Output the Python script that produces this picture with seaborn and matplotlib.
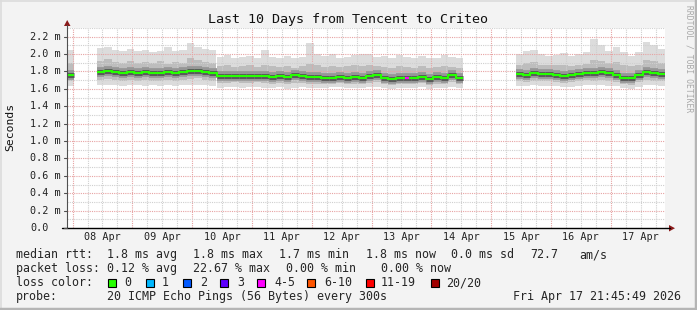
import numpy as np
import pandas as pd
import matplotlib
matplotlib.use("Agg")
import matplotlib.pyplot as plt
import seaborn as sns
from matplotlib.patches import Rectangle, Polygon
from matplotlib.lines import Line2D

nan = np.nan

# ---------------- data (milliseconds), one sample every 3 h ----------------
step_h = 3.0
start_h = -2.2364   # Apr 07 21:45:49 relative to Apr 08 00:00
end_h = 237.7636    # Apr 17 21:45:49

med_seg1 = [1.76]
med_seg2 = [1.79, 1.80, 1.79, 1.78, 1.79, 1.78, 1.79, 1.78, 1.78, 1.79, 1.78, 1.79, 1.80, 1.81, 1.79, 1.78,
            1.75, 1.745, 1.75, 1.745, 1.75, 1.75, 1.745, 1.74, 1.745, 1.735, 1.755, 1.745, 1.735, 1.735, 1.73, 1.73,
            1.735, 1.73, 1.735, 1.73,
            1.745, 1.755, 1.73, 1.715, 1.73, 1.725, 1.725, 1.735, 1.715, 1.735, 1.725, 1.76, 1.725]
med_seg3 = [1.775, 1.765, 1.78, 1.77, 1.77, 1.765, 1.745, 1.755, 1.77, 1.78, 1.78, 1.79, 1.78, 1.765, 1.73,
            1.725, 1.765, 1.79, 1.78, 1.775]

top_seg1 = [2.05]
top_seg2 = [2.07, 2.08, 2.05, 2.04, 2.06, 2.03, 2.05, 2.02, 2.04, 2.08, 2.04, 2.05, 2.13, 2.08, 2.06, 2.05,
            1.97, 1.99, 1.96, 1.97, 1.98, 1.95, 2.05, 1.97, 1.96, 1.98, 1.95, 1.97, 2.13, 2.00, 1.98, 2.00,
            1.96, 1.97, 1.99, 2.00,
            2.00, 1.97, 1.98, 1.96, 1.99, 1.97, 1.96, 1.98, 1.95, 1.96, 1.99, 1.97, 1.95]
top_seg3 = [2.00, 2.04, 2.05, 2.00, 1.98, 1.99, 2.01, 1.98, 2.00, 2.02, 2.17, 2.10, 2.03, 2.08, 2.02,
            1.98, 2.02, 2.14, 2.10, 2.06]

up_seg1 = [1.90]
up_seg2 = [1.92, 1.94, 1.91, 1.90, 1.92, 1.90, 1.91, 1.90, 1.92, 1.89, 1.91, 1.90, 1.95, 1.93, 1.91, 1.90,
           1.86, 1.87, 1.85, 1.86, 1.87, 1.85, 1.88, 1.86, 1.85, 1.86, 1.84, 1.86, 1.89, 1.87, 1.85, 1.86,
           1.85, 1.86, 1.87, 1.86,
           1.87, 1.86, 1.85, 1.84, 1.86, 1.85, 1.84, 1.86, 1.84, 1.85, 1.86, 1.85, 1.84]
up_seg3 = [1.88, 1.90, 1.91, 1.88, 1.87, 1.87, 1.88, 1.86, 1.87, 1.89, 1.93, 1.92, 1.90, 1.91, 1.88,
           1.86, 1.88, 1.93, 1.92, 1.90]

lo_seg1 = [1.69]
lo_seg2 = [1.70, 1.71, 1.70, 1.69, 1.70, 1.69, 1.70, 1.69, 1.69, 1.70, 1.69, 1.70, 1.71, 1.72, 1.70, 1.69,
           1.67, 1.67, 1.68, 1.67, 1.67, 1.68, 1.67, 1.66, 1.67, 1.66, 1.67, 1.67, 1.66, 1.66, 1.66, 1.66,
           1.67, 1.66, 1.66, 1.66,
           1.67, 1.68, 1.66, 1.65, 1.66, 1.66, 1.66, 1.67, 1.65, 1.66, 1.66, 1.68, 1.66]
lo_seg3 = [1.69, 1.68, 1.69, 1.69, 1.69, 1.68, 1.67, 1.68, 1.69, 1.70, 1.69, 1.70, 1.69, 1.68, 1.66,
           1.65, 1.68, 1.70, 1.69, 1.69]

bot_seg1 = [1.63]
bot_seg2 = [1.64, 1.65, 1.64, 1.63, 1.64, 1.64, 1.63, 1.64, 1.63, 1.64, 1.63, 1.64, 1.65, 1.65, 1.64, 1.63,
            1.61, 1.62, 1.62, 1.61, 1.62, 1.62, 1.61, 1.61, 1.62, 1.60, 1.61, 1.62, 1.61, 1.61, 1.61, 1.62,
            1.62, 1.61, 1.61, 1.61,
            1.62, 1.62, 1.61, 1.60, 1.61, 1.61, 1.61, 1.62, 1.60, 1.61, 1.61, 1.62, 1.61]
bot_seg3 = [1.63, 1.63, 1.64, 1.63, 1.63, 1.63, 1.62, 1.62, 1.63, 1.64, 1.64, 1.64, 1.63, 1.63, 1.61,
            1.60, 1.62, 1.64, 1.64, 1.63]

gap1 = [nan] * 3   # Apr 08 early morning: no data
gap2 = [nan] * 7   # Apr 14 noon .. Apr 15 morning: no data

median = med_seg1 + gap1 + med_seg2 + gap2 + med_seg3
smoke_top = top_seg1 + gap1 + top_seg2 + gap2 + top_seg3
smoke_up = up_seg1 + gap1 + up_seg2 + gap2 + up_seg3
smoke_lo = lo_seg1 + gap1 + lo_seg2 + gap2 + lo_seg3
smoke_bot = bot_seg1 + gap1 + bot_seg2 + gap2 + bot_seg3
loss_samples = {45: "4-5"}   # sample index -> loss class

day_labels = ["08 Apr", "09 Apr", "10 Apr", "11 Apr", "12 Apr", "13 Apr", "14 Apr", "15 Apr", "16 Apr", "17 Apr"]
y_ticks = [0.0, 0.2, 0.4, 0.6, 0.8, 1.0, 1.2, 1.4, 1.6, 1.8, 2.0, 2.2]
y_labels = ["0.0", "0.2 m", "0.4 m", "0.6 m", "0.8 m", "1.0 m", "1.2 m", "1.4 m", "1.6 m", "1.8 m", "2.0 m", "2.2 m"]

loss_names = ["0", "1", "2", "3", "4-5", "6-10", "11-19", "20/20"]
loss_colors = ["#26ff00", "#00b8ff", "#0059ff", "#5e00ff", "#ff00ff", "#ff5500", "#ff0000", "#a10000"]

title = "Last 10 Days from Tencent to Criteo"

# ---------------- figure ----------------
sns.set_style("white")
plt.rcParams["font.family"] = ["DejaVu Sans Mono"]

W, H = 697, 310
BG = "#f3f3f3"
fig = plt.figure(figsize=(W / 100, H / 100), dpi=100, facecolor=BG)

def fx(x):
    return x / W

def fy(y):
    return 1 - y / H

L, R, T, B = 67, 665, 28, 228
ax = fig.add_axes([fx(L), fy(B), (R - L) / W, (B - T) / H])
ax.set_facecolor("white")
for s in ax.spines.values():
    s.set_visible(False)
ax.set_xlim(start_h, end_h)
ax.set_ylim(0, 2.3)
ax.set_xticks([])
ax.set_yticks([])

df = pd.DataFrame({"t": start_h + step_h * np.arange(len(median)),
                   "top": smoke_top, "up": smoke_up, "med": median,
                   "lo": smoke_lo, "bot": smoke_bot})
valid = df.dropna()

# smoke
ax.bar(valid.t, valid.top - valid.bot, bottom=valid.bot, width=step_h, align="edge",
       color="#dcdcdc", lw=0, antialiased=False, zorder=1)
ax.bar(valid.t, valid.up - valid.lo, bottom=valid.lo, width=step_h, align="edge",
       color="#bdbdbd", lw=0, antialiased=False, zorder=1.1)

# grid (drawn above smoke as rrdtool does)
minor_c, major_c = "#cfcfcf", "#e7a3a3"
dots = (0, (1, 1))
for h in np.arange(0, 241, 6):
    if start_h < h < end_h:
        ax.axvline(h, color=major_c if h % 24 == 0 else minor_c, lw=0.8, ls=dots, zorder=2)
for k in range(1, 24):
    v = k * 0.1
    ax.axhline(v, color=major_c if k % 2 == 0 else minor_c, lw=0.8, ls=dots, zorder=2)

# darker smoke core around the median (horizontal pieces only)
ax.hlines(valid.med, valid.t, valid.t + step_h, color="#969696", lw=7.0, zorder=2.5)
ax.hlines(valid.med, valid.t, valid.t + step_h, color="#5a5a5a", lw=3.6, zorder=2.6)

# median line as steps, separated in segments
rows = []
seg = 0
prev = False
for _, r in df.iterrows():
    if np.isnan(r.med):
        prev = False
        continue
    if not prev:
        seg += 1
    prev = True
    rows.append((r.t, r.med, seg))
    rows.append((r.t + step_h, r.med, seg))
steps = pd.DataFrame(rows, columns=["t", "med", "seg"])

sns.lineplot(data=steps, x="t", y="med", units="seg", estimator=None, sort=False,
             color=loss_colors[0], lw=1.5, ax=ax, legend=False, zorder=3.2,
             solid_joinstyle="miter", solid_capstyle="butt")
for i, cls in loss_samples.items():
    ax.hlines(median[i], df.t[i] + 0.8, df.t[i] + step_h - 0.6,
              color=loss_colors[loss_names.index(cls)], lw=1.5, zorder=3.3)
ax.set_xlabel("")
ax.set_ylabel("")
ax.set_xlim(start_h, end_h)
ax.set_ylim(0, 2.3)

# axis lines and arrows
fig.add_artist(Line2D([fx(L), fx(L)], [fy(B), fy(25)], color="#505050", lw=0.8))
fig.add_artist(Polygon([(fx(64), fy(26)), (fx(70.5), fy(26)), (fx(67.2), fy(20))],
                       closed=True, color="#8b1a1a", lw=0))
fig.add_artist(Line2D([fx(62), fx(670)], [fy(B), fy(B)], color="black", lw=1.0))
fig.add_artist(Polygon([(fx(669), fy(225)), (fx(669), fy(231.5)), (fx(675), fy(228.2))],
                       closed=True, color="#8b1a1a", lw=0))

# y tick labels and tick marks
tick_fs = 7.3
for v, lab in zip(y_ticks, y_labels):
    ypx = B - v / 2.3 * (B - T)
    fig.text(fx(30), fy(ypx), lab, ha="left", va="center", fontsize=tick_fs, color="#222222")
    fig.add_artist(Line2D([fx(63.5), fx(L)], [fy(ypx), fy(ypx)], color="#505050", lw=0.8))

# x tick labels at noon
for k, lab in enumerate(day_labels):
    h = 12 + 24 * k
    xpx = L + (h - start_h) / (end_h - start_h) * (R - L)
    fig.text(fx(xpx), fy(237.5), lab, ha="center", va="center", fontsize=tick_fs, color="#222222")

# title, axis label, watermark
fig.text(fx(348), fy(19), title, ha="center", va="center", fontsize=9.6, color="#111111")
fig.text(fx(10), fy(127), "Seconds", rotation=90, ha="center", va="center", fontsize=8.2, color="#111111")
fig.text(fx(688.5), fy(59), "RRDTOOL / TOBI OETIKER", rotation=270, ha="center", va="center",
         fontsize=5.8, color="#a8a8a8")

# legend lines
lf = 8.4
row1 = [(16, "median rtt:"), (107, "1.8 ms avg"), (193, "1.8 ms max"), (279, "1.7 ms min"),
        (366, "1.8 ms now"), (451, "0.0 ms sd"), (530, "72.7"), (579, "am/s")]
row2 = [(16, "packet loss:"), (107, "0.12 % avg"), (193, "22.67 % max"), (286, "0.00 % min"),
        (381, "0.00 % now")]
for x, s in row1:
    fig.text(fx(x), fy(254.5), s, ha="left", va="center", fontsize=lf)
for x, s in row2:
    fig.text(fx(x), fy(268.5), s, ha="left", va="center", fontsize=lf)

fig.text(fx(16), fy(282.5), "loss color:", ha="left", va="center", fontsize=lf)
box_x = [108, 146, 183, 220, 257, 307, 366, 431]
lab_x = [124, 162, 200, 237, 274, 324, 381, 446]
for bx, lx, name, col in zip(box_x, lab_x, loss_names, loss_colors):
    fig.add_artist(Rectangle((fx(bx), fy(286.5)), 8 / W, 8 / H, facecolor=col,
                             edgecolor="black", lw=0.8))
    fig.text(fx(lx), fy(282.5), name, ha="left", va="center", fontsize=lf)

fig.text(fx(16), fy(296.5), "probe:", ha="left", va="center", fontsize=lf)
fig.text(fx(107), fy(296.5), "20 ICMP Echo Pings (56 Bytes) every 300s", ha="left", va="center", fontsize=lf)
fig.text(fx(681), fy(296.5), "Fri Apr 17 21:45:49 2026", ha="right", va="center", fontsize=lf)

# 3D-ish frame of the rrdtool canvas
fig.add_artist(Line2D([0, 1], [fy(0.5), fy(0.5)], color="#dcdcdc", lw=1.2))
fig.add_artist(Line2D([fx(0.5), fx(0.5)], [0, 1], color="#dcdcdc", lw=1.2))
fig.add_artist(Line2D([fx(695.5), fx(695.5)], [0, 1], color="#b5b5b5", lw=2.5))
fig.add_artist(Line2D([0, 1], [fy(308.5), fy(308.5)], color="#b5b5b5", lw=2.5))

fig.savefig("out.png", dpi=100, facecolor=BG)
